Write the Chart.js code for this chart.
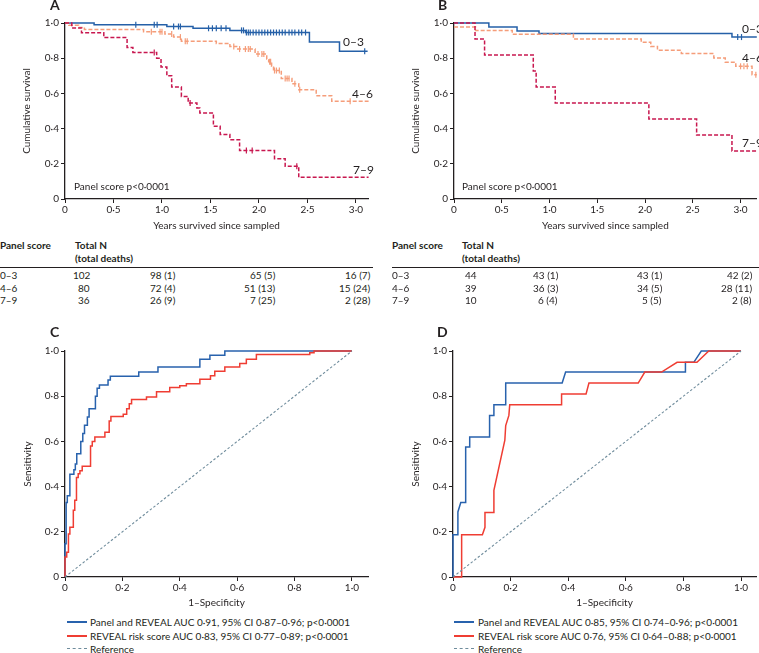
<!DOCTYPE html>
<html>
<head>
<meta charset="utf-8">
<script src="https://cdn.jsdelivr.net/npm/chart.js@4.4.1/dist/chart.umd.min.js"></script>
<style>
  body { margin: 0; background: #fff; position: relative; width: 759px; height: 653px; overflow: hidden;
         font-family: Lato, sans-serif; font-size: 10px; color: #231f20; }
  canvas { position: absolute; }
  .t { position: absolute; white-space: nowrap; line-height: 12px; }
  .b { font-weight: bold; }
  .letter { position: absolute; font-weight: bold; font-size: 14px; line-height: 16px; }
  .grp { position: absolute; font-size: 12px; line-height: 14px; white-space: nowrap; }
  .rule { position: absolute; height: 0; border-top: 1.4px solid #231f20; }
  .key { position: absolute; height: 0; width: 20px; }
</style>
</head>
<body>
<canvas id="cA" width="380" height="232" style="left:0;top:0"></canvas>
<canvas id="cB" width="380" height="232" style="left:382px;top:0"></canvas>
<canvas id="cC" width="380" height="279" style="left:0;top:330px"></canvas>
<canvas id="cD" width="380" height="279" style="left:379px;top:330px"></canvas>
<div id="overlay"></div>

<script>
/* ---------- Data ---------- */
// Panel A: Kaplan-Meier by panel score (times in years)
const timesA03 = [0, 0.30, 1.05, 1.32, 1.70, 1.86, 2.52, 2.83, 3.12];
const survA03  = [1, 0.99, 0.98, 0.97, 0.958, 0.946, 0.892, 0.839, 0.839];
const censA03  = [0.73, 0.92, 0.95, 1.12, 1.17, 1.19, 1.48, 1.52, 1.56, 1.61, 1.66, 1.82, 1.84, 1.87, 1.89, 1.91, 1.94, 1.97,
                  2.00, 2.03, 2.06, 2.09, 2.12, 2.15, 2.18, 2.21, 2.24, 2.27, 2.31, 2.34, 2.37, 2.41, 2.44, 2.48, 3.09];

const timesA46 = [0, 0.04, 0.14, 0.20, 0.81, 1.03, 1.12, 1.20, 1.56, 1.70, 1.77, 1.96, 2.08, 2.10, 2.13, 2.15, 2.23, 2.34, 2.41, 2.59, 2.75, 3.13];
const survA46  = [1, 0.9875, 0.975, 0.9625, 0.95, 0.937, 0.92, 0.896, 0.884, 0.867, 0.852, 0.824, 0.795, 0.78, 0.754, 0.73, 0.684, 0.655, 0.621, 0.587, 0.555, 0.555];
const censA46  = [0.89, 0.98, 1.00, 1.10, 1.19, 1.24, 1.26, 1.74, 1.80, 1.86, 1.89, 1.91, 1.99, 2.03, 2.05, 2.11, 2.12,
                  2.16, 2.18, 2.21, 2.27, 2.29, 2.31, 2.37, 2.42, 2.94];

const timesA79 = [0, 0.07, 0.17, 0.40, 0.64, 0.70, 0.945, 0.99, 1.05, 1.10, 1.20, 1.27, 1.36, 1.39, 1.53, 1.60, 1.70, 1.80, 2.16, 2.27, 2.41, 3.13];
const survA79  = [1, 0.972, 0.944, 0.917, 0.861, 0.833, 0.80, 0.75, 0.70, 0.636, 0.583, 0.545, 0.517, 0.489, 0.413, 0.366, 0.337, 0.275, 0.229, 0.186, 0.123, 0.123];
const censA79  = [0.92, 1.29, 1.87, 1.93, 2.39];

// Panel B
const timesB03 = [0, 0.365, 0.66, 0.89, 2.91, 3.17];
const survB03  = [1, 0.977, 0.955, 0.94, 0.92, 0.92];
const censB03  = [2.97, 3.01];

const timesB46 = [0, 0.225, 0.61, 1.25, 1.96, 2.06, 2.13, 2.38, 2.72, 2.84, 2.95, 3.12, 3.17];
const survB46  = [0.977, 0.958, 0.936, 0.909, 0.89, 0.867, 0.845, 0.826, 0.801, 0.777, 0.754, 0.706, 0.706];
const censB46  = [3.00, 3.035, 3.07, 3.16];

const timesB79 = [0, 0.22, 0.32, 0.83, 0.86, 1.06, 2.04, 2.54, 2.91, 3.17];
const survB79  = [1, 0.909, 0.818, 0.727, 0.636, 0.545, 0.455, 0.364, 0.273, 0.273];
const censB79  = [];

// Numbers at risk tables
const scoreGroups = ['0–3', '4–6', '7–9'];
const tableA = [
  ['102', '98 (1)', '65 (5)', '16 (7)'],
  ['80',  '72 (4)', '51 (13)', '15 (24)'],
  ['36',  '26 (9)', '7 (25)', '2 (28)']
];
const tableB = [
  ['44', '43 (1)', '43 (1)', '42 (2)'],
  ['39', '36 (3)', '34 (5)', '28 (11)'],
  ['10', '6 (4)',  '5 (5)',  '2 (8)']
];

// Panel C: ROC (step targets: up, then across)
const fprC1 = [0, 0.004, 0.008, 0.017, 0.031, 0.036, 0.041, 0.055, 0.062, 0.068, 0.078, 0.084, 0.106, 0.112, 0.120, 0.150, 0.158, 0.257, 0.324, 0.470, 0.505, 0.557, 1.0];
const tprC1 = [0, 0.147, 0.330, 0.360, 0.455, 0.475, 0.500, 0.545, 0.600, 0.635, 0.672, 0.708, 0.745, 0.800, 0.835, 0.850, 0.872, 0.888, 0.907, 0.929, 0.963, 0.981, 1.0];
const fprC2 = [0, 0.006, 0.012, 0.017, 0.029, 0.034, 0.040, 0.046, 0.052, 0.060, 0.089, 0.095, 0.104, 0.139, 0.154, 0.160, 0.203, 0.215,
               0.224, 0.232, 0.284, 0.319, 0.365, 0.400, 0.423, 0.470, 0.507, 0.522, 0.557, 0.609, 0.632, 0.667, 0.853, 0.868, 0.882, 1.0];
const tprC2 = [0, 0.088, 0.110, 0.190, 0.220, 0.295, 0.340, 0.440, 0.457, 0.470, 0.490, 0.580, 0.600, 0.620, 0.640, 0.690, 0.710, 0.720,
               0.745, 0.767, 0.785, 0.796, 0.820, 0.838, 0.846, 0.855, 0.875, 0.890, 0.910, 0.929, 0.945, 0.963, 0.984, 0.992, 1.0, 1.0];

// Panel D: ROC (vertices)
const fprD1 = [0, 0, 0.017, 0.017, 0.027, 0.044, 0.044, 0.058, 0.058, 0.127, 0.127, 0.142, 0.142, 0.183, 0.183, 0.379, 0.391, 0.807, 0.807, 0.836, 0.862, 1.0];
const tprD1 = [0, 0.187, 0.187, 0.288, 0.330, 0.330, 0.575, 0.575, 0.620, 0.620, 0.715, 0.715, 0.762, 0.762, 0.858, 0.858, 0.907, 0.907, 0.950, 0.950, 1.0, 1.0];
const fprD2 = [0, 0.030, 0.030, 0.102, 0.111, 0.111, 0.142, 0.142, 0.180, 0.183, 0.194, 0.197, 0.377, 0.377, 0.462, 0.472, 0.643, 0.666, 0.724, 0.778, 0.847, 0.888, 1.0];
const tprD2 = [0, 0, 0.187, 0.187, 0.220, 0.285, 0.285, 0.383, 0.605, 0.670, 0.715, 0.762, 0.762, 0.810, 0.810, 0.858, 0.858, 0.907, 0.907, 0.950, 0.950, 1.0, 1.0];

const refLine = [0, 1];

const legendC = ['Panel and REVEAL AUC 0·91, 95% CI 0·87–0·96; p<0·0001', 'REVEAL risk score AUC 0·83, 95% CI 0·77–0·89; p<0·0001', 'Reference'];
const legendD = ['Panel and REVEAL AUC 0·85, 95% CI 0·74–0·96; p<0·0001', 'REVEAL risk score AUC 0·76, 95% CI 0·64–0·88; p<0·0001', 'Reference'];

/* ---------- Styling ---------- */
const INK = '#231f20';
const BLUE = '#2560a8', ORANGE = '#f59d7a', CRIMSON = '#c8174f';
const ROC_BLUE = '#2862ad', ROC_RED = '#ef3d33', REF = '#6f8c9c';

Chart.defaults.font.family = 'Lato, sans-serif';
Chart.defaults.font.size = 10;
Chart.defaults.color = INK;

const fmt = v => v === 0 ? '0' : v.toFixed(1).replace('.', '\u00b7');

function stepAt(times, surv, t) {
  let s = surv[0];
  times.forEach((x, i) => { if (x <= t) s = surv[i]; });
  return s;
}

function kmSets(times, surv, cens, color, dash) {
  return [
    { data: times.map((t, i) => ({ x: t, y: surv[i] })), showLine: true, stepped: true,
      borderColor: color, borderWidth: 1.5, borderDash: dash, pointRadius: 0, clip: false },
    { data: cens.map(t => ({ x: t, y: stepAt(times, surv, t) })), showLine: false,
      pointStyle: 'line', pointRotation: 90, pointRadius: 3, pointBorderColor: color, pointBorderWidth: 1.2, clip: false }
  ];
}

function rocSet(fpr, tpr, color, stepped, dash) {
  return { data: fpr.map((x, i) => ({ x: x, y: tpr[i] })), showLine: true, stepped: stepped ? 'after' : false,
           borderColor: color, borderWidth: dash ? 1.1 : 1.5, borderDash: dash || [], pointRadius: 0, clip: false };
}

function axis(max, step, title, size, titlePad, isY) {
  return {
    type: 'linear', min: 0, max: max,
    ticks: { stepSize: step, includeBounds: false, callback: fmt, padding: isY ? 2 : 1, color: INK, font: { size: 10 } },
    grid: { display: true, drawOnChartArea: false, tickLength: 4, color: INK, lineWidth: 1 },
    border: { color: INK, width: 1.3 },
    title: { display: true, text: title, color: INK, font: { size: 10 },
             padding: isY ? { top: titlePad, bottom: 0 } : { top: 0, bottom: titlePad } },
    afterFit: s => { if (isY) s.width = size; else s.height = size; }
  };
}

function makeChart(id, datasets, opts) {
  return new Chart(document.getElementById(id), {
    type: 'scatter',
    data: { datasets: datasets },
    options: {
      responsive: false, animation: false, events: [],
      layout: { padding: { top: opts.top, right: opts.right, left: 0, bottom: 0 } },
      plugins: { legend: { display: false }, tooltip: { enabled: false } },
      scales: {
        x: axis(opts.xMax, opts.xStep, opts.xTitle, opts.xHeight, 0, false),
        y: axis(1, 0.2, opts.yTitle, opts.yWidth, opts.yTitlePad, true)
      }
    }
  });
}

/* ---------- Charts ---------- */
const DASH = [4, 2];

makeChart('cA', [
  ...kmSets(timesA79, survA79, censA79, CRIMSON, DASH),
  ...kmSets(timesA46, survA46, censA46, ORANGE, DASH),
  ...kmSets(timesA03, survA03, censA03, BLUE, [])
], { top: 23, right: 12, xMax: 3.124, xStep: 0.5, xTitle: 'Years survived since sampled', xHeight: 33,
     yTitle: 'Cumulative survival', yWidth: 65, yTitlePad: 21 });

makeChart('cB', [
  ...kmSets(timesB79, survB79, censB79, CRIMSON, DASH),
  ...kmSets(timesB46, survB46, censB46, ORANGE, DASH),
  ...kmSets(timesB03, survB03, censB03, BLUE, [])
], { top: 23, right: 3, xMax: 3.17, xStep: 0.5, xTitle: 'Years survived since sampled', xHeight: 33,
     yTitle: 'Cumulative survival', yWidth: 72, yTitlePad: 28 });

makeChart('cC', [
  rocSet(refLine, refLine, REF, false, [2.5, 2]),
  rocSet(fprC2, tprC2, ROC_RED, true),
  rocSet(fprC1, tprC1, ROC_BLUE, true)
], { top: 21, right: 12, xMax: 1.056, xStep: 0.2, xTitle: '1–Specificity', xHeight: 32,
     yTitle: 'Sensitivity', yWidth: 65, yTitlePad: 22 });

makeChart('cD', [
  rocSet(refLine, refLine, REF, false, [2.5, 2]),
  rocSet(fprD2, tprD2, ROC_RED, false),
  rocSet(fprD1, tprD1, ROC_BLUE, false)
], { top: 21, right: 3, xMax: 1.052, xStep: 0.2, xTitle: '1–Specificity', xHeight: 32,
     yTitle: 'Sensitivity', yWidth: 74, yTitlePad: 31 });

/* ---------- Text overlays ---------- */
const overlay = document.getElementById('overlay');
function put(cls, text, left, top) {
  const d = document.createElement('div');
  d.className = cls;
  d.textContent = text;
  d.style.left = left + 'px';
  d.style.top = top + 'px';
  overlay.appendChild(d);
  return d;
}

// panel letters
put('letter', 'A', 50, -3);
put('letter', 'B', 438, -3);
put('letter', 'C', 50, 324);
put('letter', 'D', 437, 324);

// curve labels and p values
put('grp', '0–3', 343, 35); put('grp', '4–6', 352, 87); put('grp', '7–9', 353, 163);
put('grp', '0–3', 742, 22); put('grp', '4–6', 742, 51); put('grp', '7–9', 742, 136);
put('t', 'Panel score p<0·0001', 74, 180);
put('t', 'Panel score p<0·0001', 462, 180);

// at-risk tables
function table(x0, xTot, colRights, rows, ruleW) {
  put('t b', 'Panel score', x0, 239);
  put('t b', 'Total N', xTot, 239);
  put('t b', '(total deaths)', xTot, 252);
  const r = document.createElement('div');
  r.className = 'rule';
  r.style.left = x0 + 'px'; r.style.top = '267px'; r.style.width = ruleW + 'px';
  overlay.appendChild(r);
  rows.forEach((row, i) => {
    const top = 269 + i * 12.5;
    put('t', scoreGroups[i], x0, top);
    row.forEach((cell, j) => {
      const d = put('t', cell, 0, top);
      d.style.left = (colRights[j] - d.offsetWidth) + 'px';
    });
  });
}
table(0, 75, [90, 175, 275, 370], tableA, 373);
table(392, 462, [477, 558, 662, 752], tableB, 367);

// ROC legends
function legend(xLine, xText, labels) {
  const styles = [
    'border-top:2px solid ' + ROC_BLUE,
    'border-top:2px solid ' + ROC_RED,
    'border-top:1.2px dashed ' + REF
  ];
  labels.forEach((txt, i) => {
    const y = 622 + i * 13.5;
    const k = document.createElement('div');
    k.className = 'key';
    k.style.cssText += ';left:' + xLine + 'px;top:' + (y - 1) + 'px;' + styles[i];
    overlay.appendChild(k);
    put('t', txt, xText, y - 6);
  });
}
legend(67, 90, legendC);
legend(454, 478, legendD);
</script>
</body>
</html>
